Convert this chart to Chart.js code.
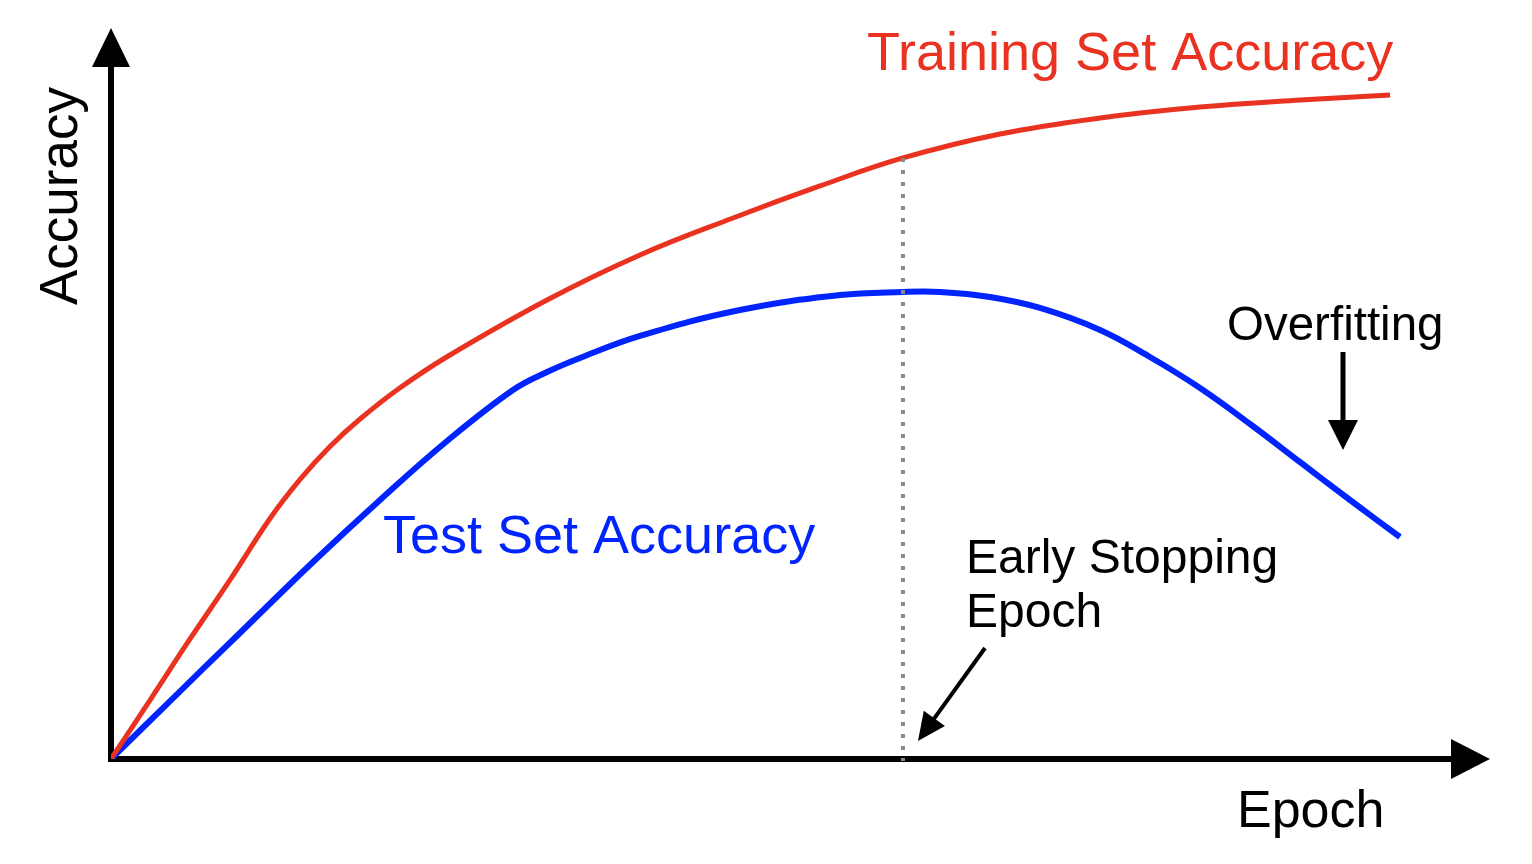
<!DOCTYPE html>
<html>
<head>
<meta charset="utf-8">
<script src="https://cdn.jsdelivr.net/npm/chart.js@4/dist/chart.umd.min.js"></script>
<style>
  html, body { margin: 0; padding: 0; background: #ffffff; }
  #wrap { width: 1532px; height: 864px; position: relative; }
</style>
</head>
<body>
<div id="wrap"><canvas id="c"></canvas></div>
<script>
// ---- data ----
const trainEpoch = [0, 2.83, 5.73, 8.63, 11.53, 13.71, 15.88, 18.06, 20.96, 24.37, 31.62, 38.36, 45.11, 51.41, 57.43, 64.47, 71.72, 78.97, 86.22, 92.75];
const trainAcc   = [0, 8.07, 16.42, 24.49, 32.90, 38.24, 42.75, 46.51, 50.78, 55.03, 62.79, 68.95, 74.01, 78.39, 82.22, 85.50, 87.69, 89.19, 90.15, 90.83];
const testEpoch  = [0, 4.06, 9.35, 14.65, 19.51, 24.37, 29.15, 31.62, 34.01, 38.36, 45.61, 52.86, 57.43, 60.12, 63.74, 67.37, 71.72, 75.34, 78.97, 82.60, 86.22, 89.85, 93.47];
const testAcc    = [0, 7.52, 17.24, 26.95, 35.43, 43.50, 50.48, 52.94, 54.86, 57.87, 61.42, 63.47, 63.89, 63.89, 63.20, 61.70, 58.69, 54.99, 50.75, 45.83, 40.63, 35.43, 30.37];
const stopEpoch = 57.43;
const labels = {
  train: "Training Set Accuracy",
  test: "Test Set Accuracy",
  yAxis: "Accuracy",
  xAxis: "Epoch",
  overfit: "Overfitting",
  early: ["Early Stopping", "Epoch"]
};

const RED = "rgb(234,50,32)";
const BLUE = "rgb(0,36,255)";
const FONT = "'Liberation Sans', Arial, sans-serif";

function toXY(xs, ys) { return xs.map((x, i) => ({ x: x, y: ys[i] })); }

function arrowHead(ctx, tx, ty, ux, uy, len, half) {
  const bx = tx - ux * len, by = ty - uy * len;
  const px = -uy, py = ux;
  ctx.beginPath();
  ctx.moveTo(tx, ty);
  ctx.lineTo(bx + px * half, by + py * half);
  ctx.lineTo(bx - px * half, by - py * half);
  ctx.closePath();
  ctx.fill();
}

const axesPlugin = {
  id: "axes",
  beforeDatasetsDraw(chart) {
    const ctx = chart.ctx, xs = chart.scales.x, ys = chart.scales.y;
    const ox = xs.getPixelForValue(0), oy = ys.getPixelForValue(0);
    const right = xs.getPixelForValue(100), top = ys.getPixelForValue(100);
    ctx.save();
    ctx.strokeStyle = "#000"; ctx.fillStyle = "#000"; ctx.lineWidth = 6;
    ctx.lineCap = "butt";
    ctx.beginPath();
    ctx.moveTo(ox - 3, oy); ctx.lineTo(right - 36, oy);
    ctx.moveTo(ox, oy + 3); ctx.lineTo(ox, top + 36);
    ctx.stroke();
    arrowHead(ctx, right, oy, 1, 0, 39, 20);
    arrowHead(ctx, ox, top, 0, -1, 39, 19);
    ctx.restore();
  },
  afterDatasetsDraw(chart) {
    const ctx = chart.ctx, xs = chart.scales.x, ys = chart.scales.y;
    // early stopping dotted line
    const sx = xs.getPixelForValue(stopEpoch);
    const iStop = trainEpoch.indexOf(stopEpoch);
    const sy = ys.getPixelForValue(trainAcc[iStop]);
    const oy = ys.getPixelForValue(0);
    ctx.save();
    ctx.strokeStyle = "#8a8a8a"; ctx.lineWidth = 4;
    ctx.setLineDash([4, 8]);
    ctx.beginPath(); ctx.moveTo(sx, sy); ctx.lineTo(sx, oy + 2); ctx.stroke();
    ctx.setLineDash([]);

    // texts
    ctx.textBaseline = "alphabetic"; ctx.textAlign = "left";
    ctx.font = "54px " + FONT;
    ctx.fillStyle = RED;  ctx.fillText(labels.train, 867, 70);
    ctx.fillStyle = BLUE; ctx.fillText(labels.test, 383, 553);
    ctx.fillStyle = "#000";
    ctx.font = "52px " + FONT;
    ctx.fillText(labels.xAxis, 1237, 827);
    ctx.save();
    ctx.translate(77, 305); ctx.rotate(-Math.PI / 2);
    ctx.font = "53px " + FONT;
    ctx.fillText(labels.yAxis, 0, 0);
    ctx.restore();
    ctx.font = "47.5px " + FONT;
    ctx.fillText(labels.overfit, 1227, 340);
    ctx.font = "48px " + FONT;
    ctx.fillText(labels.early[0], 966, 573);
    ctx.fillText(labels.early[1], 966, 627);

    // overfitting arrow
    ctx.strokeStyle = "#000"; ctx.fillStyle = "#000"; ctx.lineWidth = 5;
    ctx.beginPath(); ctx.moveTo(1343, 352); ctx.lineTo(1343, 424); ctx.stroke();
    arrowHead(ctx, 1343, 450, 0, 1, 30, 15);
    // early stopping arrow
    const ax0 = 985, ay0 = 648, ax1 = 918, ay1 = 741;
    const L = Math.hypot(ax1 - ax0, ay1 - ay0), ux = (ax1 - ax0) / L, uy = (ay1 - ay0) / L;
    ctx.lineWidth = 4;
    ctx.beginPath(); ctx.moveTo(ax0, ay0); ctx.lineTo(ax1 - ux * 22, ay1 - uy * 22); ctx.stroke();
    arrowHead(ctx, ax1, ay1, ux, uy, 28, 13);
    ctx.restore();
  }
};

new Chart(document.getElementById("c"), {
  type: "line",
  data: {
    datasets: [
      { label: labels.train, data: toXY(trainEpoch, trainAcc), borderColor: RED, borderWidth: 5,
        pointRadius: 0, tension: 0.4, fill: false },
      { label: labels.test, data: toXY(testEpoch, testAcc), borderColor: BLUE, borderWidth: 6,
        pointRadius: 0, tension: 0.4, fill: false }
    ]
  },
  options: {
    responsive: true,
    maintainAspectRatio: false,
    animation: false,
    events: [],
    layout: { padding: { left: 111, right: 42, top: 28, bottom: 105 } },
    scales: {
      x: { type: "linear", min: 0, max: 100, display: false },
      y: { type: "linear", min: 0, max: 100, display: false }
    },
    plugins: { legend: { display: false }, tooltip: { enabled: false }, title: { display: false } }
  },
  plugins: [axesPlugin]
});
</script>
</body>
</html>
